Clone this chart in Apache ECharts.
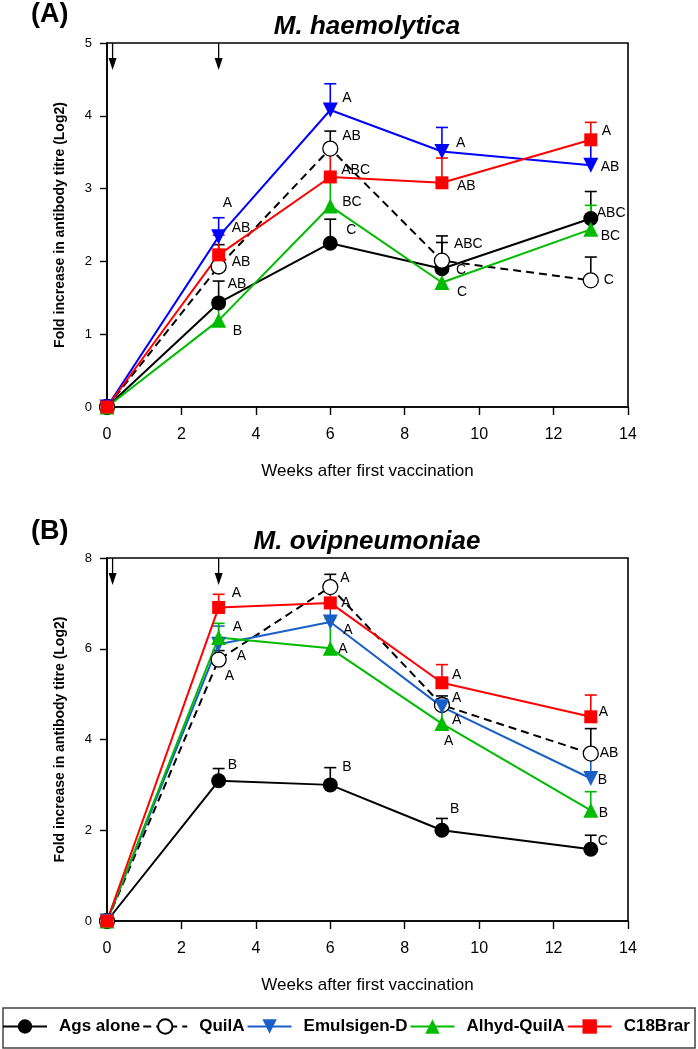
<!DOCTYPE html>
<html>
<head>
<meta charset="utf-8">
<script src="https://cdn.jsdelivr.net/npm/echarts@6/dist/echarts.min.js"></script>
<style>
html,body{margin:0;padding:0;background:#fff;}
#chart{width:698px;height:1049px;}
</style>
</head>
<body>
<div id="chart"></div>
<script>
// ---------------- DATA ----------------
const weeks = [0, 3, 6, 9, 13];
const groups = ['Ags alone', 'QuilA', 'Emulsigen-D', 'Alhyd-QuilA', 'C18Brar'];
const xTicks = [0, 2, 4, 6, 8, 10, 12, 14];
const arrowWeeks = [0.15, 3];

// Panel A: M. haemolytica (means, upper SE, significance letters)
const haemAgs   = [0, 1.43, 2.25, 1.90, 2.59];
const haemQuil  = [0, 1.93, 3.55, 2.01, 1.74];
const haemEmul  = [0, 2.34, 4.08, 3.51, 3.32];
const haemAlhyd = [0, 1.19, 2.76, 1.71, 2.44];
const haemC18   = [0, 2.09, 3.16, 3.08, 3.67];

const haemAgsErr   = [0, 0.30, 0.33, 0.36, 0.37];
const haemQuilErr  = [0, 0.30, 0.24, 0.34, 0.32];
const haemEmulErr  = [0, 0.26, 0.36, 0.33, 0.32];
const haemAlhydErr = [0, 0.18, 0.35, 0.25, 0.33];
const haemC18Err   = [0, 0.27, 0.35, 0.34, 0.24];

const haemAgsSig   = ['', 'AB', 'C', 'C', 'ABC'];
const haemQuilSig  = ['', 'AB', 'AB', 'ABC', 'C'];
const haemEmulSig  = ['', 'A', 'A', 'A', 'AB'];
const haemAlhydSig = ['', 'B', 'BC', 'C', 'BC'];
const haemC18Sig   = ['', 'AB', 'ABC', 'AB', 'A'];

// Panel B: M. ovipneumoniae
const oviAgs   = [0, 3.09, 3.00, 2.00, 1.58];
const oviQuil  = [0, 5.76, 7.36, 4.76, 3.69];
const oviEmul  = [0, 6.10, 6.59, 4.72, 3.14];
const oviAlhyd = [0, 6.25, 6.01, 4.35, 2.44];
const oviC18   = [0, 6.91, 7.01, 5.25, 4.50];

const oviAgsErr   = [0, 0.27, 0.38, 0.26, 0.31];
const oviQuilErr  = [0, 0.20, 0.28, 0.20, 0.55];
const oviEmulErr  = [0, 0.40, 0.36, 0.18, 0.50];
const oviAlhydErr = [0, 0.31, 0.66, 0.52, 0.41];
const oviC18Err   = [0, 0.29, 0.43, 0.40, 0.48];

const oviAgsSig   = ['', 'B', 'B', 'B', 'C'];
const oviQuilSig  = ['', 'A', 'A', 'A', 'AB'];
const oviEmulSig  = ['', 'A', 'A', 'A', 'B'];
const oviAlhydSig = ['', 'A', 'A', 'A', 'B'];
const oviC18Sig   = ['', 'A', 'A', 'A', 'A'];

// ---------------- LAYOUT / STYLE ----------------
const FONT = '"Liberation Sans", Arial, Helvetica, sans-serif';
const labelOffsetsA = [
  [null, [9, -19], [16, -13], [14, 1], [6, -5]],
  [null, [13, -4], [12, -12], [12, -17], [13, 0]],
  [null, [4, -34], [12, -12], [14, -8], [10, 2]],
  [null, [14, 11], [12, -4], [15, 10], [10, 7]],
  [null, [13, -27], [11, -7], [15, 3], [11, -9]]
];
const labelOffsetsB = [
  [null, [9, -16], [12, -18], [8, -21], [7, -8]],
  [null, [18, -3], [10, -9], [10, -7], [9, 0]],
  [null, [6, 32], [13, 8], [10, 13], [7, 2]],
  [null, [14, -10], [8, 1], [2, 18], [8, 3]],
  [null, [13, -14], [11, 0], [10, -8], [8, -5]]
];
function styles(blue) {
  return [
    {color: '#000000', symbol: 'circle', size: 15, fill: '#000000', dash: 'solid', rot: 0},
    {color: '#000000', symbol: 'circle', size: 15, fill: '#ffffff', dash: [8, 5], rot: 0},
    {color: blue, symbol: 'triangle', size: 15, fill: blue, dash: 'solid', rot: 180},
    {color: '#00bb00', symbol: 'triangle', size: 15, fill: '#00bb00', dash: 'solid', rot: 0},
    {color: '#ff0000', symbol: 'rect', size: 13, fill: '#ff0000', dash: 'solid', rot: 0}
  ];
}

function buildPanel(idx, means, errs, sigs, offsets, st, yMax) {
  const out = [];
  means.forEach((m, g) => {
    const s = st[g];
    out.push({
      type: 'custom', name: 'err' + idx + g, xAxisIndex: idx, yAxisIndex: idx, z: 1,
      silent: true,
      data: weeks.map((w, i) => [w, m[i], errs[g][i]]).filter(d => d[2] > 0),
      encode: {x: 0, y: 1},
      renderItem: function (params, api) {
        const p = api.coord([api.value(0), api.value(1)]);
        const t = api.coord([api.value(0), api.value(1) + api.value(2)]);
        const ls = {stroke: s.color, lineWidth: 1.6};
        return {type: 'group', children: [
          {type: 'line', shape: {x1: p[0], y1: p[1], x2: t[0], y2: t[1]}, style: ls},
          {type: 'line', shape: {x1: t[0] - 6, y1: t[1], x2: t[0] + 6, y2: t[1]}, style: ls}
        ]};
      }
    });
    out.push({
      type: 'line', name: groups[g], xAxisIndex: idx, yAxisIndex: idx, z: 3,
      symbol: s.symbol, symbolSize: s.size, symbolRotate: s.rot, showAllSymbol: true,
      lineStyle: {color: s.color, width: 2, type: s.dash},
      itemStyle: {color: s.fill, borderColor: s.color, borderWidth: s.fill === '#ffffff' ? 1.3 : 0, opacity: 1},
      emphasis: {disabled: true},
      animation: false,
      data: weeks.map((w, i) => {
        const o = offsets[g][i];
        const item = {value: [w, m[i]]};
        if (sigs[g][i]) {
          item.label = {show: true, formatter: sigs[g][i], position: 'inside', align: 'left',
            verticalAlign: 'middle', offset: o, color: '#000', fontSize: 14, fontFamily: FONT};
        }
        return item;
      })
    });
  });
  out.push({
    type: 'custom', name: 'arrows' + idx, xAxisIndex: idx, yAxisIndex: idx, z: 4, silent: true,
    data: arrowWeeks.map(w => [w, yMax]),
    encode: {x: 0, y: 1},
    renderItem: function (params, api) {
      const p = api.coord([api.value(0), api.value(1)]);
      const len = 27, hl = 12, hw = 4;
      return {type: 'group', children: [
        {type: 'line', shape: {x1: p[0], y1: p[1], x2: p[0], y2: p[1] + len - hl + 1}, style: {stroke: '#000', lineWidth: 1.3}},
        {type: 'polygon', shape: {points: [[p[0] - hw, p[1] + len - hl], [p[0] + hw, p[1] + len - hl], [p[0], p[1] + len]]}, style: {fill: '#000'}}
      ]};
    }
  });
  return out;
}

const gridA = {left: 107, top: 43, width: 521, height: 364};
const gridB = {left: 107, top: 558, width: 521, height: 363};

function xAxisCfg(gi) {
  return {
    type: 'value', gridIndex: gi, min: 0, max: 14, interval: 2,
    name: 'Weeks after first vaccination', nameLocation: 'middle', nameGap: 56,
    nameTextStyle: {fontSize: 17, fontFamily: FONT, color: '#000'},
    axisLine: {show: true, lineStyle: {color: '#000', width: 1.6}},
    axisTick: {show: true, length: 8, lineStyle: {color: '#000', width: 1.4}},
    axisLabel: {fontSize: 16, fontFamily: FONT, color: '#000', margin: 20,
      formatter: v => (xTicks.indexOf(v) >= 0 ? String(v) : '')},
    splitLine: {show: false}
  };
}
function yAxisCfg(gi, max, interval) {
  return {
    type: 'value', gridIndex: gi, min: 0, max: max, interval: interval,
    name: 'Fold increase in antibody titre (Log2)', nameLocation: 'middle', nameGap: 40,
    nameTextStyle: {fontSize: 14, fontWeight: 'bold', fontFamily: FONT, color: '#000'},
    axisLine: {show: true, lineStyle: {color: '#000', width: 1.6}},
    axisTick: {show: true, length: 7, lineStyle: {color: '#000', width: 1.4}},
    axisLabel: {fontSize: 13, fontFamily: FONT, color: '#000', margin: 15},
    splitLine: {show: false}
  };
}

const series = []
  .concat(buildPanel(1, [oviAgs, oviQuil, oviEmul, oviAlhyd, oviC18],
    [oviAgsErr, oviQuilErr, oviEmulErr, oviAlhydErr, oviC18Err],
    [oviAgsSig, oviQuilSig, oviEmulSig, oviAlhydSig, oviC18Sig], labelOffsetsB, styles('#1a5fc8'), 8))
  .concat(buildPanel(0, [haemAgs, haemQuil, haemEmul, haemAlhyd, haemC18],
    [haemAgsErr, haemQuilErr, haemEmulErr, haemAlhydErr, haemC18Err],
    [haemAgsSig, haemQuilSig, haemEmulSig, haemAlhydSig, haemC18Sig], labelOffsetsA, styles('#0000ff'), 5));

const option = {
  backgroundColor: '#ffffff',
  animation: false,
  grid: [
    Object.assign({show: true, borderColor: '#000', borderWidth: 1.6, containLabel: false}, gridA),
    Object.assign({show: true, borderColor: '#000', borderWidth: 1.6, containLabel: false}, gridB)
  ],
  xAxis: [xAxisCfg(0), xAxisCfg(1)],
  yAxis: [yAxisCfg(0, 5, 1), yAxisCfg(1, 8, 2)],
  legend: {
    data: groups, left: 2, top: 1018, width: 696, padding: 0, orient: 'horizontal',
    itemWidth: 44, itemHeight: 18, itemGap: 2,
    textStyle: {fontSize: 17, fontWeight: 'bold', fontFamily: FONT, color: '#000', padding: [0, 0, 0, 7]},
    selectedMode: false
  },
  graphic: [
    {type: 'text', x: 31, y: 15, style: {text: '(A)', font: 'bold 27px ' + FONT, fill: '#000', textVerticalAlign: 'middle'}},
    {type: 'text', x: 31, y: 532, style: {text: '(B)', font: 'bold 27px ' + FONT, fill: '#000', textVerticalAlign: 'middle'}},
    {type: 'text', x: 367, y: 27, style: {text: 'M. haemolytica', font: 'italic bold 26px ' + FONT, fill: '#000', textAlign: 'center', textVerticalAlign: 'middle'}},
    {type: 'text', x: 367, y: 542, style: {text: 'M. ovipneumoniae', font: 'italic bold 26px ' + FONT, fill: '#000', textAlign: 'center', textVerticalAlign: 'middle'}},
    {type: 'rect', shape: {x: 3, y: 1008, width: 692, height: 40}, style: {fill: 'none', stroke: '#444', lineWidth: 1.5}}
  ],
  series: series
};

const chart = echarts.init(document.getElementById('chart'), null, {renderer: 'canvas'});
chart.setOption(option);
</script>
</body>
</html>
